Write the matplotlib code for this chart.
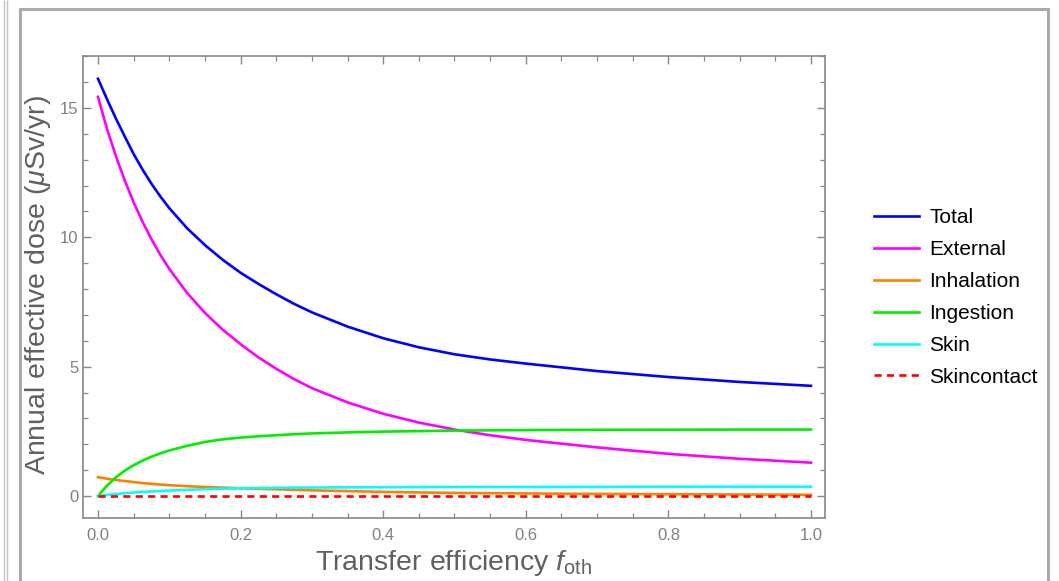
import matplotlib
matplotlib.use("Agg")
import matplotlib.pyplot as plt
from matplotlib.lines import Line2D
from matplotlib.ticker import MultipleLocator, FormatStrFormatter

plt.rcParams['font.family'] = ['Liberation Sans', 'DejaVu Sans']
plt.rcParams['mathtext.fontset'] = 'custom'
plt.rcParams['mathtext.rm'] = 'Liberation Sans'
plt.rcParams['mathtext.it'] = 'Liberation Sans:italic'

# values
f_oth = [0, 0.0125, 0.025, 0.0375, 0.05, 0.0625, 0.075, 0.0875, 0.1, 0.125, 0.15,
         0.175, 0.2, 0.225, 0.25, 0.275, 0.3, 0.35, 0.4, 0.45, 0.5, 0.55, 0.6,
         0.7, 0.8, 0.9, 1.0]
total = [16.13, 15.35, 14.6, 13.9, 13.22, 12.62, 12.07, 11.58, 11.13, 10.35, 9.7,
         9.13, 8.63, 8.2, 7.8, 7.43, 7.1, 6.55, 6.1, 5.75, 5.48, 5.28, 5.12,
         4.83, 4.6, 4.41, 4.26]
external = [15.43, 14.2, 13.15, 12.2, 11.35, 10.6, 9.93, 9.32, 8.78, 7.85, 7.08,
            6.43, 5.87, 5.36, 4.92, 4.52, 4.17, 3.62, 3.18, 2.84, 2.57, 2.35, 2.17,
            1.88, 1.63, 1.44, 1.29]
inhalation = [0.73, 0.67, 0.62, 0.58, 0.54, 0.5, 0.47, 0.445, 0.42, 0.38, 0.35,
              0.325, 0.30, 0.28, 0.26, 0.24, 0.22, 0.19, 0.16, 0.14, 0.12, 0.11, 0.10,
              0.08, 0.07, 0.06, 0.05]
ingestion = [0, 0.4, 0.72, 0.98, 1.19, 1.37, 1.52, 1.65, 1.76, 1.94, 2.09,
             2.19, 2.26, 2.31, 2.35, 2.39, 2.42, 2.46, 2.49, 2.51, 2.53, 2.54, 2.55,
             2.56, 2.565, 2.57, 2.57]
skin = [0, 0.045, 0.08, 0.11, 0.135, 0.155, 0.175, 0.195, 0.21, 0.24, 0.265,
        0.285, 0.30, 0.31, 0.32, 0.325, 0.33, 0.335, 0.34, 0.345, 0.35, 0.35, 0.35,
        0.355, 0.36, 0.36, 0.36]
skincontact = [0.01] * len(f_oth)

series = [
    ("Total", total, "#0000ff", "-"),
    ("External", external, "#ff00ff", "-"),
    ("Inhalation", inhalation, "#ff8000", "-"),
    ("Ingestion", ingestion, "#00ee00", "-"),
    ("Skin", skin, "#00ffff", "-"),
    ("Skincontact", skincontact, "#ff0000", (0, (2.7, 2.0))),
]

fig = plt.figure(figsize=(10.59, 5.81), dpi=100)
ax = fig.add_axes([0.0784, 0.1084, 0.7006, 0.7952])

for name, vals, col, ls in series:
    ax.plot(f_oth, vals, color=col, ls=ls, lw=1.9, label=name)

ax.set_xlim(-0.021, 1.0196)
ax.set_ylim(-0.85, 17.01)
ax.xaxis.set_major_locator(MultipleLocator(0.2))
ax.xaxis.set_minor_locator(MultipleLocator(0.05))
ax.yaxis.set_major_locator(MultipleLocator(5))
ax.yaxis.set_minor_locator(MultipleLocator(1))
ax.xaxis.set_major_formatter(FormatStrFormatter('%.1f'))

gray = '#888888'
for s in ax.spines.values():
    s.set_color(gray)
    s.set_linewidth(1.2)
ax.tick_params(which='both', direction='in', top=True, right=True, color=gray,
               labelcolor='#808080', labelsize=12)
ax.tick_params(which='major', length=6, width=1.0)
ax.tick_params(which='minor', length=3.5, width=0.9)
ax.tick_params(axis='x', pad=7)

fig.text(0.4287, 0.019, r"Transfer efficiency $f_{\rm oth}$", fontsize=20.5,
         color='#606060', ha='center', va='baseline')
fig.text(0.036, 0.509, r"Annual effective dose ($\mu$Sv/yr)", fontsize=20.5,
         color='#606060', ha='center', va='center', rotation=90)

ax.legend(loc='center left', bbox_to_anchor=(0.825, 0.488), bbox_transform=fig.transFigure,
          frameon=False, fontsize=15, handlelength=2.16, handletextpad=0.5,
          labelspacing=0.62, borderpad=0, borderaxespad=0)

# outer frame
fr = '#aaaaaa'
W, H = 1059, 581
def fline(xs, ys, lw, c):
    fig.add_artist(Line2D([x / W for x in xs], [1 - y / H for y in ys], lw=lw, color=c,
                          transform=fig.transFigure, solid_capstyle='butt'))
fline([3.5, 3.5], [0, H], 1.0, '#c4c4c4')
fline([7, 7], [0, H], 1.0, '#c4c4c4')
fline([20, 20], [8, H], 2.2, fr)
fline([19, 1049], [9, 9], 2.2, fr)
fline([1048, 1048], [8, H], 2.2, fr)

fig.savefig("out.png", dpi=100)
